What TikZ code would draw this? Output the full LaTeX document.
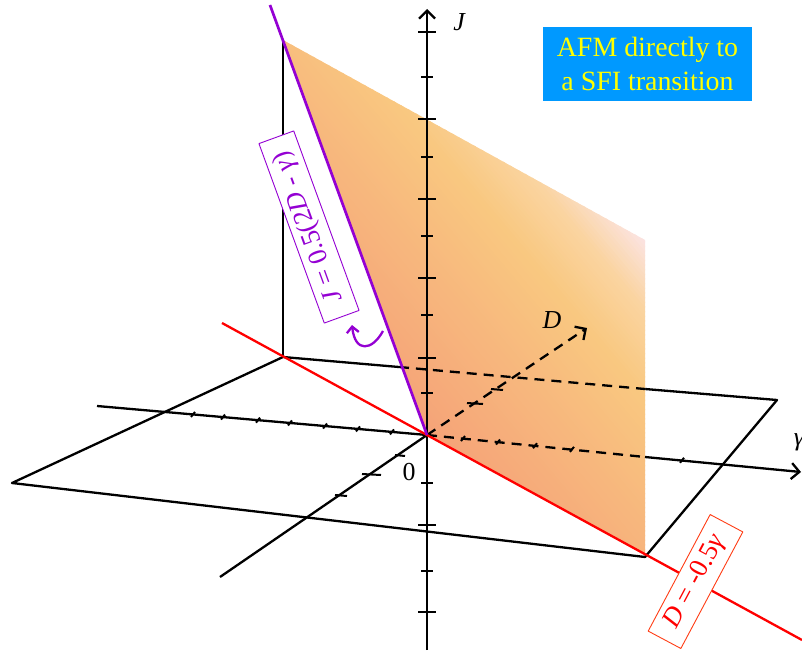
\documentclass[tikz,border=0pt]{standalone}
\usepackage{fontspec}
\setmainfont{Liberation Serif}
\usetikzlibrary{arrows.meta,calc}
\definecolor{violetc}{RGB}{148,0,211}
\definecolor{bluec}{RGB}{0,153,255}
\definecolor{yellowc}{RGB}{255,255,0}
\definecolor{boxred}{RGB}{255,60,20}
\definecolor{pA}{RGB}{245,163,120}
\definecolor{pB}{RGB}{247,182,125}
\definecolor{pC}{RGB}{249,200,128}
\definecolor{pD}{RGB}{250,212,160}
\definecolor{pE}{RGB}{251,228,228}
\begin{document}
\begin{tikzpicture}[x=1bp,y=-1bp,line join=round,
  axis/.style={line width=2.3bp,black},
  dsh/.style={axis,dash pattern=on 10bp off 7bp},
  tickst/.style={line width=2bp,black},
  axtip/.style={-{Straight Barb[length=8bp,width=16bp]}},
  lab/.style={font=\fontsize{26}{30}\selectfont},
  eqbox/.style={fill=white,line width=0.9bp,inner sep=0pt,minimum height=37bp,font=\fontsize{27}{30}\selectfont}]
\useasboundingbox (0,0) rectangle (802,654);
% key points
\coordinate (O) at (427,435);
\coordinate (P1) at (12,483);
\coordinate (P2) at (283,357);
\coordinate (P3) at (777,400);
\coordinate (P4) at (645,557);
\coordinate (T) at (283,40);
\coordinate (Q1) at (645,240);
\coordinate (Q2) at (645,555);
\coordinate (B1) at (399,367);
\coordinate (B2) at (645,389);
\coordinate (G0) at (97,406);
\coordinate (G1) at (645,457);
\coordinate (G2) at (801,472);
\coordinate (D0) at (220,577);
\coordinate (D1) at (587,328);
\coordinate (J0) at (427,650);
\coordinate (J1) at (427,9);
\coordinate (V0) at (270,5);
\coordinate (R0) at (222,323);
\coordinate (R1) at (802,640);
% black frame
\draw[axis] (B1) -- (P2) -- (P1) -- (P4) -- (P3) -- (B2);
\draw[axis] (P2) -- (T);
% negative gamma axis
\draw[axis] (G0) -- (O);
\foreach \x in {193,223,258,290,325,358,392}
  \draw[tickst] ({\x-2},{435-(427-\x)*0.0879+2.5}) -- ++(4,-5);
% negative D axis
\draw[axis] (O) -- (D0);
\draw[tickst] (395,455) -- (405,456);
\draw[tickst] (362,474) -- (381,475);
\draw[tickst] (335,495) -- (347,496);
% shaded plane
\begin{scope}
\clip (T) -- (Q1) -- (Q2) -- (O) -- cycle;
\begin{scope}[shift={(427,435)},rotate=40]
\foreach \s in {-6,-3,...,300}{
  \pgfmathtruncatemacro{\ss}{max(0,\s)}
  \ifnum\ss<100
    \pgfmathtruncatemacro{\p}{\ss}\colorlet{stripc}{pB!\p!pA}%
  \else\ifnum\ss<190
    \pgfmathtruncatemacro{\p}{(\ss-100)*100/90}\colorlet{stripc}{pC!\p!pB}%
  \else\ifnum\ss<245
    \pgfmathtruncatemacro{\p}{(\ss-190)*100/55}\colorlet{stripc}{pD!\p!pC}%
  \else
    \pgfmathtruncatemacro{\p}{min(100,(\ss-245)*100/47)}\colorlet{stripc}{pE!\p!pD}%
  \fi\fi\fi
  \fill[stripc] (\s,-420) rectangle ++(3.8,840);
}
\end{scope}
\end{scope}
% hidden (dashed) parts
\draw[dsh] (B1) -- (B2);
\draw[dsh] (O) -- (G1);
\draw[dsh,axtip] (O) -- (D1);
\draw[tickst] (467,403) -- (483,404);
\draw[tickst] (491,389) -- (503,390);
% visible positive gamma
\draw[axis,axtip] (G1) -- (G2);
\foreach \x in {463,498,535,572,682}
  \draw[tickst] ({\x-2},{435+(\x-427)*0.0992+2.5}) -- ++(4,-5);
% J axis
\draw[axis,axtip] (J0) -- (J1);
\foreach \y in {32,119,199,278,358,525,612}
  \draw[tickst] (418,\y) -- (436,\y);
\foreach \y in {77,157,236,315,393,483,571}
  \draw[tickst] (421,\y) -- (433,\y);
% red and purple lines
\draw[red,line width=2.3bp] (R0) -- (R1);
\draw[violetc,line width=2.7bp] (V0) -- (O);
% axis labels
\node[lab,font=\fontsize{26}{30}\selectfont\itshape] (Jl) at (459,22) {J};
\node[lab,font=\fontsize{26}{30}\selectfont\itshape] (Dl) at (552,320) {D};
\node[lab,font=\fontsize{26}{30}\selectfont\itshape] (gl) at (799,442) {γ};
\node[lab] (zero) at (409,472) {0};
% equation labels
\node[eqbox,draw=violetc,text=violetc,rotate=110,minimum width=191bp] (lab1) at (309,227)
  {\textit{J} = 0.5(2\textit{D} - \textit{γ})};
\node[eqbox,draw=boxred,text=red,rotate=62,minimum width=132bp] (lab2) at (695.5,581.5)
  {\textit{D} = -0.5\textit{γ}};
\coordinate (hookstart) at (383,331);
\coordinate (hookend) at (352,325);
\draw[violetc,line width=2.3bp,-{Straight Barb[length=6bp,width=12bp]}]
  (hookstart) .. controls (372,351) and (355,353) .. (hookend);
% note box
\node[fill=bluec,text=yellowc,minimum width=209bp,minimum height=74bp,inner sep=0pt,
  align=center,font=\fontsize{28}{34}\selectfont] (note) at (647.5,64)
  {AFM directly to\\a SFI transition};
\end{tikzpicture}
\end{document}
